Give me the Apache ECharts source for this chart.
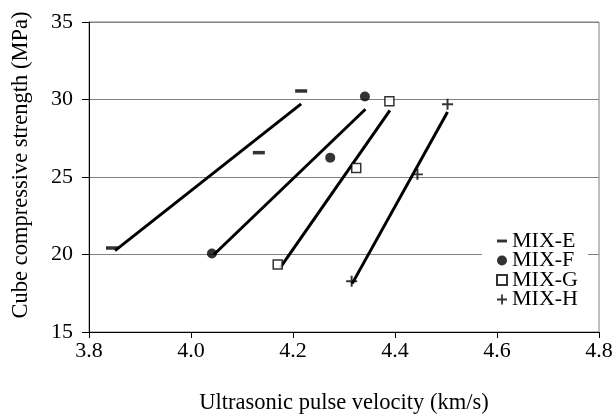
<!DOCTYPE html>
<html>
<head>
<meta charset="utf-8">
<script src="https://cdn.jsdelivr.net/npm/echarts@6/dist/echarts.min.js"></script>
<style>
html,body{margin:0;padding:0;background:#fff;}
#chart{width:616px;height:416px;}
</style>
</head>
<body>
<div id="chart"></div>
<script>
// Measured data (velocity km/s, strength MPa)
var velocityE = [3.845, 4.133, 4.216];
var strengthE = [20.42, 26.57, 30.55];
var velocityF = [4.041, 4.273, 4.341];
var strengthF = [20.06, 26.25, 30.19];
var velocityG = [4.170, 4.324, 4.389];
var strengthG = [19.35, 25.58, 29.88];
var velocityH = [4.315, 4.444, 4.503];
var strengthH = [18.27, 25.17, 29.69];

// Trend line end points
var trendVelE = [3.851, 4.216];
var trendStrE = [20.25, 29.72];
var trendVelF = [4.045, 4.342];
var trendStrF = [20.00, 29.37];
var trendVelG = [4.175, 4.390];
var trendStrG = [19.15, 29.30];
var trendVelH = [4.316, 4.503];
var trendStrH = [18.12, 29.19];

var seriesNames = ['MIX-E', 'MIX-F', 'MIX-G', 'MIX-H'];
var xTicks = [3.8, 4.0, 4.2, 4.4, 4.6, 4.8];
var yTicks = [15, 20, 25, 30, 35];

var FONT = "'Liberation Serif', 'Times New Roman', serif";
var dashPath = 'path://M0,0H12V3.5H0Z';
var plusPath = 'path://M4.1,0H5.9V4.1H10V5.9H5.9V10H4.1V5.9H0V4.1H4.1Z';

function zip(xs, ys) { return xs.map(function (x, i) { return [x, ys[i]]; }); }

var chart = echarts.init(document.getElementById('chart'), null, {renderer: 'canvas'});

function trend(name, xs, ys) {
  return {
    name: name, type: 'line', data: zip(xs, ys), showSymbol: false, symbol: 'none',
    lineStyle: {color: '#000', width: 3}, z: 3, silent: true
  };
}

var option = {
  animation: false,
  backgroundColor: '#fff',
  grid: {left: 89, right: 17, top: 22, bottom: 84, show: true, borderColor: '#808080', borderWidth: 1,
    containLabel: false, outerBoundsMode: 'none'},
  xAxis: {
    type: 'value', min: xTicks[0], max: xTicks[xTicks.length - 1], interval: 0.2,
    name: 'Ultrasonic pulse velocity (km/s)', nameLocation: 'middle', nameGap: 60,
    nameTextStyle: {fontFamily: FONT, fontSize: 22.5, color: '#000'},
    axisLine: {lineStyle: {color: '#000', width: 1}},
    axisTick: {show: true, inside: false, length: 6, lineStyle: {color: '#000'}},
    axisLabel: {fontFamily: FONT, fontSize: 22, color: '#000', margin: 8,
      formatter: function (v) { return v.toFixed(1); }},
    splitLine: {show: false}
  },
  yAxis: {
    type: 'value', min: yTicks[0], max: yTicks[yTicks.length - 1], interval: 5,
    name: 'Cube compressive strength (MPa)', nameLocation: 'middle', nameGap: 56,
    nameTextStyle: {fontFamily: FONT, fontSize: 22.5, color: '#000', padding: [0, 0, 0, 24]},
    axisLine: {lineStyle: {color: '#000', width: 1}},
    axisTick: {show: true, inside: false, length: 7, lineStyle: {color: '#000'}},
    axisLabel: {fontFamily: FONT, fontSize: 22, color: '#000', margin: 16},
    splitLine: {show: true, lineStyle: {color: '#808080', width: 1}}
  },
  legend: {
    orient: 'vertical', left: 482, top: 229,
    backgroundColor: '#fff', padding: [1, 10, 2, 14],
    itemWidth: 10, itemHeight: 10, itemGap: -2.5,
    textStyle: {fontFamily: FONT, fontSize: 22, color: '#000'},
    data: [
      {name: seriesNames[0], icon: dashPath},
      {name: seriesNames[1], icon: 'circle'},
      {name: seriesNames[2], icon: 'rect'},
      {name: seriesNames[3], icon: plusPath}
    ]
  },
  series: [
    trend('trendE', trendVelE, trendStrE),
    trend('trendF', trendVelF, trendStrF),
    trend('trendG', trendVelG, trendStrG),
    trend('trendH', trendVelH, trendStrH),
    {name: seriesNames[0], type: 'scatter', data: zip(velocityE, strengthE),
      symbol: dashPath, symbolSize: [12, 3.5], itemStyle: {color: '#000'}, z: 4},
    {name: seriesNames[1], type: 'scatter', data: zip(velocityF, strengthF),
      symbol: 'circle', symbolSize: 10, itemStyle: {color: '#000'}, z: 4},
    {name: seriesNames[2], type: 'scatter', data: zip(velocityG, strengthG),
      symbol: 'rect', symbolSize: 9, itemStyle: {color: '#fff', borderColor: '#000', borderWidth: 1.5}, z: 4},
    {name: seriesNames[3], type: 'scatter', data: zip(velocityH, strengthH),
      symbol: plusPath, symbolSize: 11, itemStyle: {color: '#000'}, z: 4}
  ]
};
chart.setOption(option);
</script>
</body>
</html>
